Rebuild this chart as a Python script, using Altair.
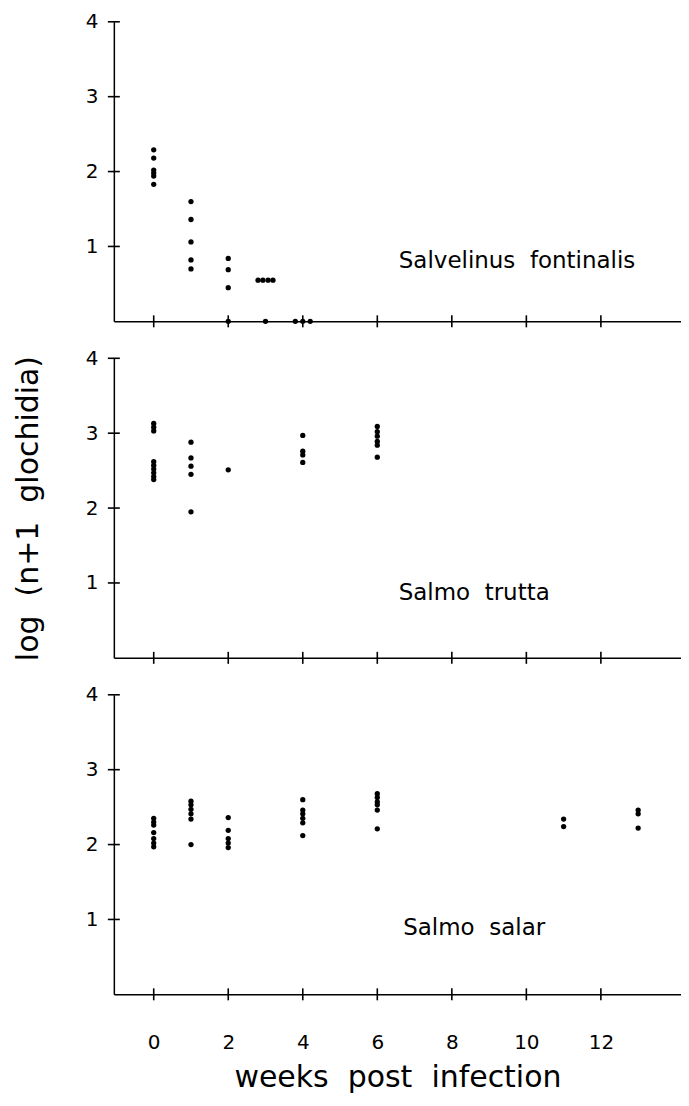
import altair as alt
import pandas as pd

# ---------------- data ----------------
X_TICKS = [0, 2, 4, 6, 8, 10, 12]
Y_TICKS = [1, 2, 3, 4]

fontinalis_week = [0, 0, 0, 0, 0, 0,
                   1, 1, 1, 1, 1,
                   2, 2, 2, 2,
                   2.8, 2.93, 3.07, 3.2, 3,
                   3.8, 4, 4.2]
fontinalis_log = [2.29, 2.18, 2.02, 1.98, 1.94, 1.83,
                  1.60, 1.36, 1.06, 0.82, 0.70,
                  0.84, 0.69, 0.45, 0.0,
                  0.55, 0.55, 0.55, 0.55, 0.0,
                  0.0, 0.0, 0.0]

trutta_week = [0, 0, 0, 0, 0, 0, 0, 0, 0,
               1, 1, 1, 1, 1,
               2,
               4, 4, 4, 4,
               6, 6, 6, 6, 6, 6]
trutta_log = [3.13, 3.08, 3.03, 2.62, 2.57, 2.52, 2.47, 2.42, 2.38,
              2.88, 2.67, 2.56, 2.45, 1.95,
              2.51,
              2.97, 2.76, 2.71, 2.61,
              3.09, 3.02, 2.96, 2.89, 2.84, 2.68]

salar_week = [0, 0, 0, 0, 0, 0, 0,
              1, 1, 1, 1, 1, 1,
              2, 2, 2, 2, 2,
              4, 4, 4, 4, 4, 4,
              6, 6, 6, 6, 6, 6,
              11, 11,
              13, 13, 13]
salar_log = [2.35, 2.30, 2.26, 2.16, 2.08, 2.02, 1.97,
             2.58, 2.53, 2.47, 2.41, 2.34, 2.00,
             2.36, 2.19, 2.08, 2.02, 1.96,
             2.60, 2.46, 2.41, 2.35, 2.29, 2.12,
             2.68, 2.63, 2.57, 2.53, 2.46, 2.21,
             2.34, 2.24,
             2.46, 2.41, 2.22]

NB = "\u00a0"
species = ["Salvelinus" + NB + " fontinalis", "Salmo" + NB + " trutta", "Salmo" + NB + " salar"]
label_pos = [(9.75, 0.8), (8.6, 0.87), (8.6, 0.89)]

X_TITLE = "weeks" + NB + " post" + NB + " infection"
Y_TITLE = "log" + NB + " (n+1" + NB + " glochidia)"

# ---------------- layout ----------------
W, H = 568, 300
XDOM = [-1.07, 14.15]
YDOM = [0, 4]
FONT = "DejaVu Sans"
VLINE = "M0,-1L0,1"
HLINE = "M-1,0L1,0"


def panel(weeks, vals, label, pos, bottom, show_ytitle):
    df = pd.DataFrame({"week": weeks, "log": vals})
    xs = alt.Scale(domain=XDOM, nice=False, zero=False, padding=0)
    ys = alt.Scale(domain=YDOM, nice=False, padding=0)

    xkw = dict(values=X_TICKS, ticks=False, grid=False, format="d")
    if bottom:
        xkw.update(labels=True, title=X_TITLE, labelPadding=38, titlePadding=10)
    else:
        xkw.update(labels=False, title=None)
    yaxis = alt.Axis(values=Y_TICKS, ticks=False, labelPadding=16, title=Y_TITLE, format="d",
                     titlePadding=42, titleOpacity=1 if show_ytitle else 0, grid=False)

    points = alt.Chart(df).mark_circle(size=28, color="black", opacity=1).encode(
        x=alt.X("week:Q", scale=xs, axis=alt.Axis(**xkw)),
        y=alt.Y("log:Q", scale=ys, axis=yaxis),
    )
    # cross-shaped tick marks on both axes
    xticks = alt.Chart(pd.DataFrame({"tx": X_TICKS})).mark_point(
        shape=VLINE, size=144, strokeWidth=1.6, color="black", filled=False, opacity=1
    ).encode(
        x=alt.X("tx:Q", scale=xs),
        y=alt.YDatum(YDOM[0], type="quantitative", scale=ys),
    )
    yticks = alt.Chart(pd.DataFrame({"ty": Y_TICKS})).mark_point(
        shape=HLINE, size=144, strokeWidth=1.6, color="black", filled=False, opacity=1
    ).encode(
        y=alt.Y("ty:Q", scale=ys),
        x=alt.XDatum(XDOM[0], type="quantitative", scale=xs),
    )
    text = alt.Chart(pd.DataFrame({"t": [label]})).mark_text(
        font=FONT, fontSize=23, color="black", align="center", baseline="middle"
    ).encode(
        text="t:N",
        x=alt.XDatum(pos[0], type="quantitative", scale=xs),
        y=alt.YDatum(pos[1], type="quantitative", scale=ys),
    )
    return alt.layer(points, xticks, yticks, text).properties(width=W, height=H)


top = panel(fontinalis_week, fontinalis_log, species[0], label_pos[0], False, False)
mid = panel(trutta_week, trutta_log, species[1], label_pos[1], False, True)
bot = panel(salar_week, salar_log, species[2], label_pos[2], True, False)

chart = alt.vconcat(top, mid, bot, spacing=17).properties(
    padding={"left": 5, "top": 3, "right": 0, "bottom": 0},
    background="white",
).configure_view(stroke=None).configure_axis(
    labelFont=FONT, labelFontSize=20, labelColor="black",
    titleFont=FONT, titleFontSize=30, titleFontWeight="normal", titleColor="black",
    domainColor="black", domainWidth=1.5,
)

chart.save("out.html", embed_options={"renderer": "svg", "actions": False})
